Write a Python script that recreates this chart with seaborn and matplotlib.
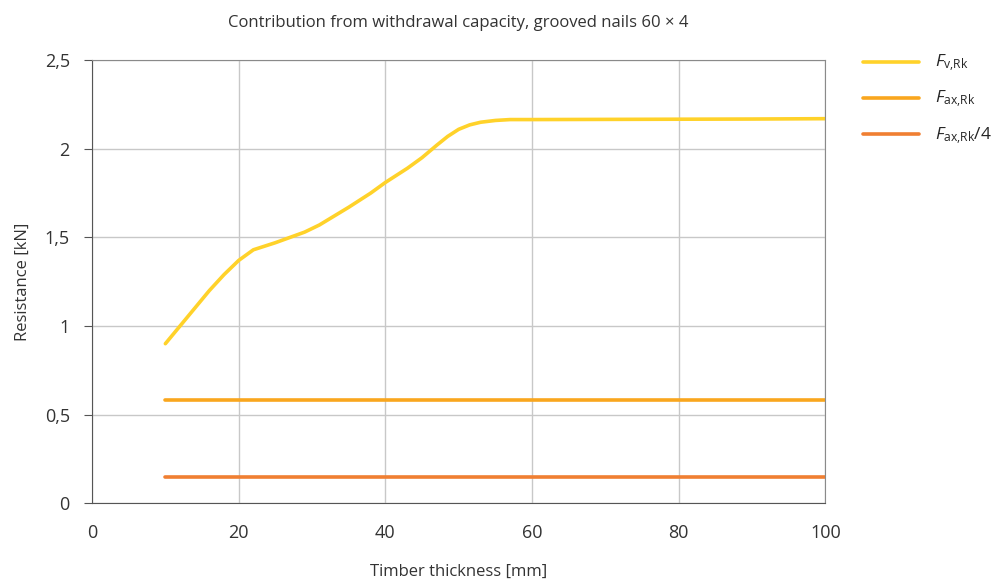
import numpy as np
import pandas as pd
import matplotlib.pyplot as plt
import matplotlib.ticker as mticker
import seaborn as sns

# values
thickness = [10, 13, 16, 18, 20, 22, 25, 27, 29, 31, 33, 35, 38, 40, 43, 45, 47, 48.5, 50, 51.5, 53, 55, 57, 60, 70, 80, 90, 100]
f_v_rk = [0.90, 1.05, 1.20, 1.29, 1.37, 1.43, 1.47, 1.50, 1.53, 1.57, 1.62, 1.67, 1.75, 1.81, 1.89, 1.95, 2.02, 2.07, 2.11, 2.135, 2.15, 2.16, 2.165, 2.165, 2.166, 2.167, 2.168, 2.17]
f_ax_rk = 0.58
f_ax_rk_4 = 0.145

labels = [r'$F_{\mathrm{v{,}Rk}}$', r'$F_{\mathrm{ax{,}Rk}}$', r'$F_{\mathrm{ax{,}Rk}}/4$']
colors = ['#FFD22A', '#F9A61E', '#F07F32']

df = pd.DataFrame({
    'x': thickness * 3,
    'y': f_v_rk + [f_ax_rk] * len(thickness) + [f_ax_rk_4] * len(thickness),
    'series': [labels[0]] * len(thickness) + [labels[1]] * len(thickness) + [labels[2]] * len(thickness),
})

sns.set_style('white')
plt.rcParams['font.family'] = ['Open Sans', 'DejaVu Sans']
plt.rcParams['mathtext.fontset'] = 'custom'
plt.rcParams['mathtext.rm'] = 'Open Sans'
plt.rcParams['mathtext.it'] = 'Open Sans:italic'

fig = plt.figure(figsize=(9.95, 5.79), dpi=100)
ax = fig.add_axes([0.0925, 0.131, 0.737, 0.765])

sns.lineplot(data=df, x='x', y='y', hue='series', palette=colors, linewidth=2.6, ax=ax, sort=False)

ax.set_xlim(0, 100)
ax.set_ylim(0, 2.5)
ax.set_xticks([0, 20, 40, 60, 80, 100])
ax.set_yticks([0, 0.5, 1, 1.5, 2, 2.5])
ax.yaxis.set_major_formatter(mticker.FuncFormatter(lambda v, p: f'{v:g}'.replace('.', ',')))
ax.grid(True, color='#c8c8c8', linewidth=1)
ax.set_axisbelow(True)
for s in ['left', 'bottom']:
    ax.spines[s].set_color('#555555')
for s in ['top', 'right']:
    ax.spines[s].set_color('#8a8a8a')
ax.tick_params(axis='y', direction='out', length=6, color='#555555', labelsize=13, labelcolor='#333333', left=True, pad=10)
ax.tick_params(axis='x', direction='out', length=0, labelsize=13, labelcolor='#333333', pad=15)

ax.set_title('Contribution from withdrawal capacity, grooved nails 60 × 4', fontsize=12, color='#333333', pad=24)
ax.set_xlabel('Timber thickness [mm]', fontsize=12, color='#333333', labelpad=16)
ax.set_ylabel('Resistance [kN]', fontsize=12, color='#333333', labelpad=10)

ax.legend(title=None, frameon=False, loc='upper left', bbox_to_anchor=(1.052, 1.016),
          borderaxespad=0, borderpad=0,
          fontsize=12.5, handlelength=3.2, handletextpad=0.9, labelspacing=0.85)

fig.savefig('out.png', dpi=100)
